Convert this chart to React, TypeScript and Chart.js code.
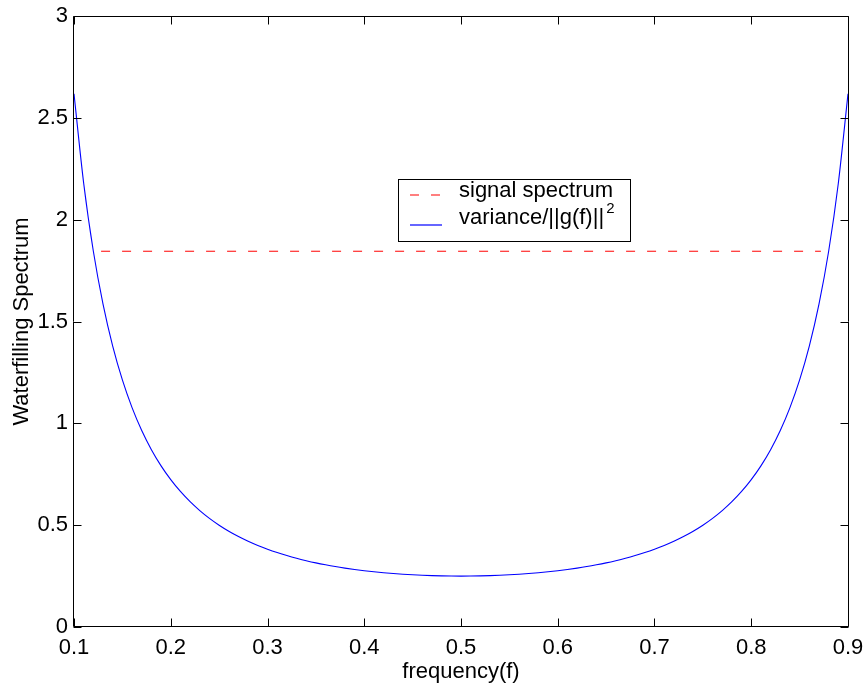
import { useEffect, useRef } from 'react';
import { Chart, registerables } from 'chart.js';

Chart.register(...registerables);

const frequency = [
  0.10, 0.11, 0.12, 0.13, 0.14, 0.15, 0.16, 0.17, 0.18, 0.19,
  0.20, 0.21, 0.22, 0.23, 0.24, 0.25, 0.26, 0.27, 0.28, 0.29,
  0.30, 0.31, 0.32, 0.33, 0.34, 0.35, 0.36, 0.37, 0.38, 0.39,
  0.40, 0.41, 0.42, 0.43, 0.44, 0.45, 0.46, 0.47, 0.48, 0.49,
  0.50,
  0.51, 0.52, 0.53, 0.54, 0.55, 0.56, 0.57, 0.58, 0.59, 0.60,
  0.61, 0.62, 0.63, 0.64, 0.65, 0.66, 0.67, 0.68, 0.69, 0.70,
  0.71, 0.72, 0.73, 0.74, 0.75, 0.76, 0.77, 0.78, 0.79, 0.80,
  0.81, 0.82, 0.83, 0.84, 0.85, 0.86, 0.87, 0.88, 0.89, 0.90,
];

const noiseOverGain = [
  2.6180, 2.1788, 1.8448, 1.5850, 1.3790, 1.2130, 1.0772, 0.9648, 0.8707, 0.7913,
  0.7236, 0.6655, 0.6153, 0.5716, 0.5335, 0.5000, 0.4705, 0.4443, 0.4211, 0.4004,
  0.3820, 0.3655, 0.3507, 0.3374, 0.3256, 0.3149, 0.3054, 0.2968, 0.2892, 0.2824,
  0.2764, 0.2711, 0.2665, 0.2625, 0.2591, 0.2563, 0.2540, 0.2522, 0.2510, 0.2502,
  0.2500,
  0.2502, 0.2510, 0.2522, 0.2540, 0.2563, 0.2591, 0.2625, 0.2665, 0.2711, 0.2764,
  0.2824, 0.2892, 0.2968, 0.3054, 0.3149, 0.3256, 0.3374, 0.3507, 0.3655, 0.3820,
  0.4004, 0.4211, 0.4443, 0.4705, 0.5000, 0.5335, 0.5716, 0.6153, 0.6655, 0.7236,
  0.7913, 0.8707, 0.9648, 1.0772, 1.2130, 1.3790, 1.5850, 1.8448, 2.1788, 2.6180,
];

const signalFrequency = [0.128, 0.872];
const signalLevel = [1.845, 1.845];

const xTickValues = [0.1, 0.2, 0.3, 0.4, 0.5, 0.6, 0.7, 0.8, 0.9];
const xTickLabels = ['0.1', '0.2', '0.3', '0.4', '0.5', '0.6', '0.7', '0.8', '0.9'];
const yTickValues = [0, 0.5, 1, 1.5, 2, 2.5, 3];
const yTickLabels = ['0', '0.5', '1', '1.5', '2', '2.5', '3'];

const legendLabels = ['signal spectrum', 'variance/||g(f)||'];
const legendSuperscript = '2';

const FONT = '"Liberation Sans", Arial, Helvetica, sans-serif';

const boxAndTicks = {
  id: 'boxAndTicks',
  afterDraw(chart: any) {
    const ctx: CanvasRenderingContext2D = chart.ctx;
    const area = chart.chartArea;
    const xs = chart.scales.x;
    const ys = chart.scales.y;
    const L = Math.round(area.left) - 0.5;
    const R = Math.round(area.right) + 0.5;
    const T = Math.round(area.top) + 0.5;
    const B = Math.round(area.bottom) - 0.5;
    const len = 8;
    ctx.save();
    ctx.setLineDash([]);
    ctx.strokeStyle = '#000000';
    ctx.lineWidth = 1;
    ctx.beginPath();
    ctx.moveTo(L, T);
    ctx.lineTo(R, T);
    ctx.lineTo(R, B);
    ctx.lineTo(L, B);
    ctx.closePath();
    for (const v of xTickValues) {
      const px = Math.round(xs.getPixelForValue(v)) + 0.5;
      ctx.moveTo(px, B);
      ctx.lineTo(px, B - len);
      ctx.moveTo(px, T);
      ctx.lineTo(px, T + len);
    }
    for (const v of yTickValues) {
      const py = Math.round(ys.getPixelForValue(v)) + 0.5;
      ctx.moveTo(L, py);
      ctx.lineTo(L + len, py);
      ctx.moveTo(R, py);
      ctx.lineTo(R - len, py);
    }
    ctx.stroke();
    ctx.restore();

    // legend
    const bx = 398, by = 179, bw = 232, bh = 62;
    ctx.save();
    ctx.fillStyle = '#ffffff';
    ctx.fillRect(bx, by, bw, bh);
    ctx.strokeStyle = '#000000';
    ctx.lineWidth = 1;
    ctx.setLineDash([]);
    ctx.strokeRect(bx + 0.5, by + 0.5, bw, bh);

    ctx.lineWidth = 1.2;
    ctx.strokeStyle = '#ff0000';
    ctx.setLineDash([9, 12]);
    ctx.beginPath();
    ctx.moveTo(410, 195);
    ctx.lineTo(442, 195);
    ctx.stroke();
    ctx.setLineDash([]);
    ctx.strokeStyle = '#0000ff';
    ctx.beginPath();
    ctx.moveTo(410, 225);
    ctx.lineTo(442, 225);
    ctx.stroke();

    ctx.fillStyle = '#000000';
    ctx.textAlign = 'left';
    ctx.textBaseline = 'alphabetic';
    ctx.font = `22px ${FONT}`;
    ctx.fillText(legendLabels[0], 459, 197);
    ctx.fillText(legendLabels[1], 459, 224);
    const w = ctx.measureText(legendLabels[1]).width;
    ctx.font = `15px ${FONT}`;
    ctx.fillText(legendSuperscript, 459 + w + 2, 213);
    ctx.restore();
  },
};

export default function App() {
  const ref = useRef<HTMLCanvasElement | null>(null);

  useEffect(() => {
    if (!ref.current) return;
    Chart.defaults.font.family = FONT;
    const chart = new Chart(ref.current, {
      type: 'line',
      data: {
        datasets: [
          {
            label: legendLabels[0],
            data: signalFrequency.map((x, i) => ({ x, y: signalLevel[i] })),
            borderColor: '#ff0000',
            borderWidth: 1,
            borderDash: [9, 12],
            pointRadius: 0,
            fill: false,
          },
          {
            label: legendLabels[1],
            data: frequency.map((x, i) => ({ x, y: noiseOverGain[i] })),
            borderColor: '#0000ff',
            borderWidth: 1.1,
            pointRadius: 0,
            cubicInterpolationMode: 'monotone',
            fill: false,
          },
        ],
      },
      options: {
        animation: false,
        responsive: true,
        maintainAspectRatio: false,
        layout: { padding: { top: 16, right: 18, left: 0, bottom: 0 } },
        plugins: {
          legend: { display: false },
          tooltip: { enabled: false },
        },
        scales: {
          x: {
            type: 'linear',
            min: 0.1,
            max: 0.9,
            grid: { display: false, drawTicks: false },
            border: { display: false },
            afterBuildTicks: (scale: any) => {
              scale.ticks = xTickValues.map((v) => ({ value: v }));
            },
            afterFit: (scale: any) => {
              scale.height = 56;
              scale.paddingLeft = 0;
              scale.paddingRight = 0;
            },
            ticks: {
              color: '#000',
              font: { size: 22 },
              padding: 8,
              maxRotation: 0,
              autoSkip: false,
              callback: (_v: any, i: number) => xTickLabels[i],
            },
            title: {
              display: true,
              text: 'frequency(f)',
              color: '#000',
              font: { size: 22 },
              padding: { top: 0, bottom: -2 },
            },
          },
          y: {
            type: 'linear',
            min: 0,
            max: 3,
            grid: { display: false, drawTicks: false },
            border: { display: false },
            afterBuildTicks: (scale: any) => {
              scale.ticks = yTickValues.map((v) => ({ value: v }));
            },
            afterFit: (scale: any) => {
              scale.width = 74;
              scale.paddingTop = 0;
              scale.paddingBottom = 0;
            },
            ticks: {
              color: '#000',
              font: { size: 22 },
              padding: 6,
              autoSkip: false,
              callback: (_v: any, i: number) => yTickLabels[i],
            },
            title: {
              display: true,
              text: 'Waterfilling Spectrum',
              color: '#000',
              font: { size: 22 },
              padding: { top: 9, bottom: 0 },
            },
          },
        },
      },
      plugins: [boxAndTicks],
    });
    return () => chart.destroy();
  }, []);

  return (
    <div style={{ position: 'fixed', left: 0, top: 0, width: 866, height: 683, background: '#fff' }}>
      <canvas ref={ref} />
    </div>
  );
}
